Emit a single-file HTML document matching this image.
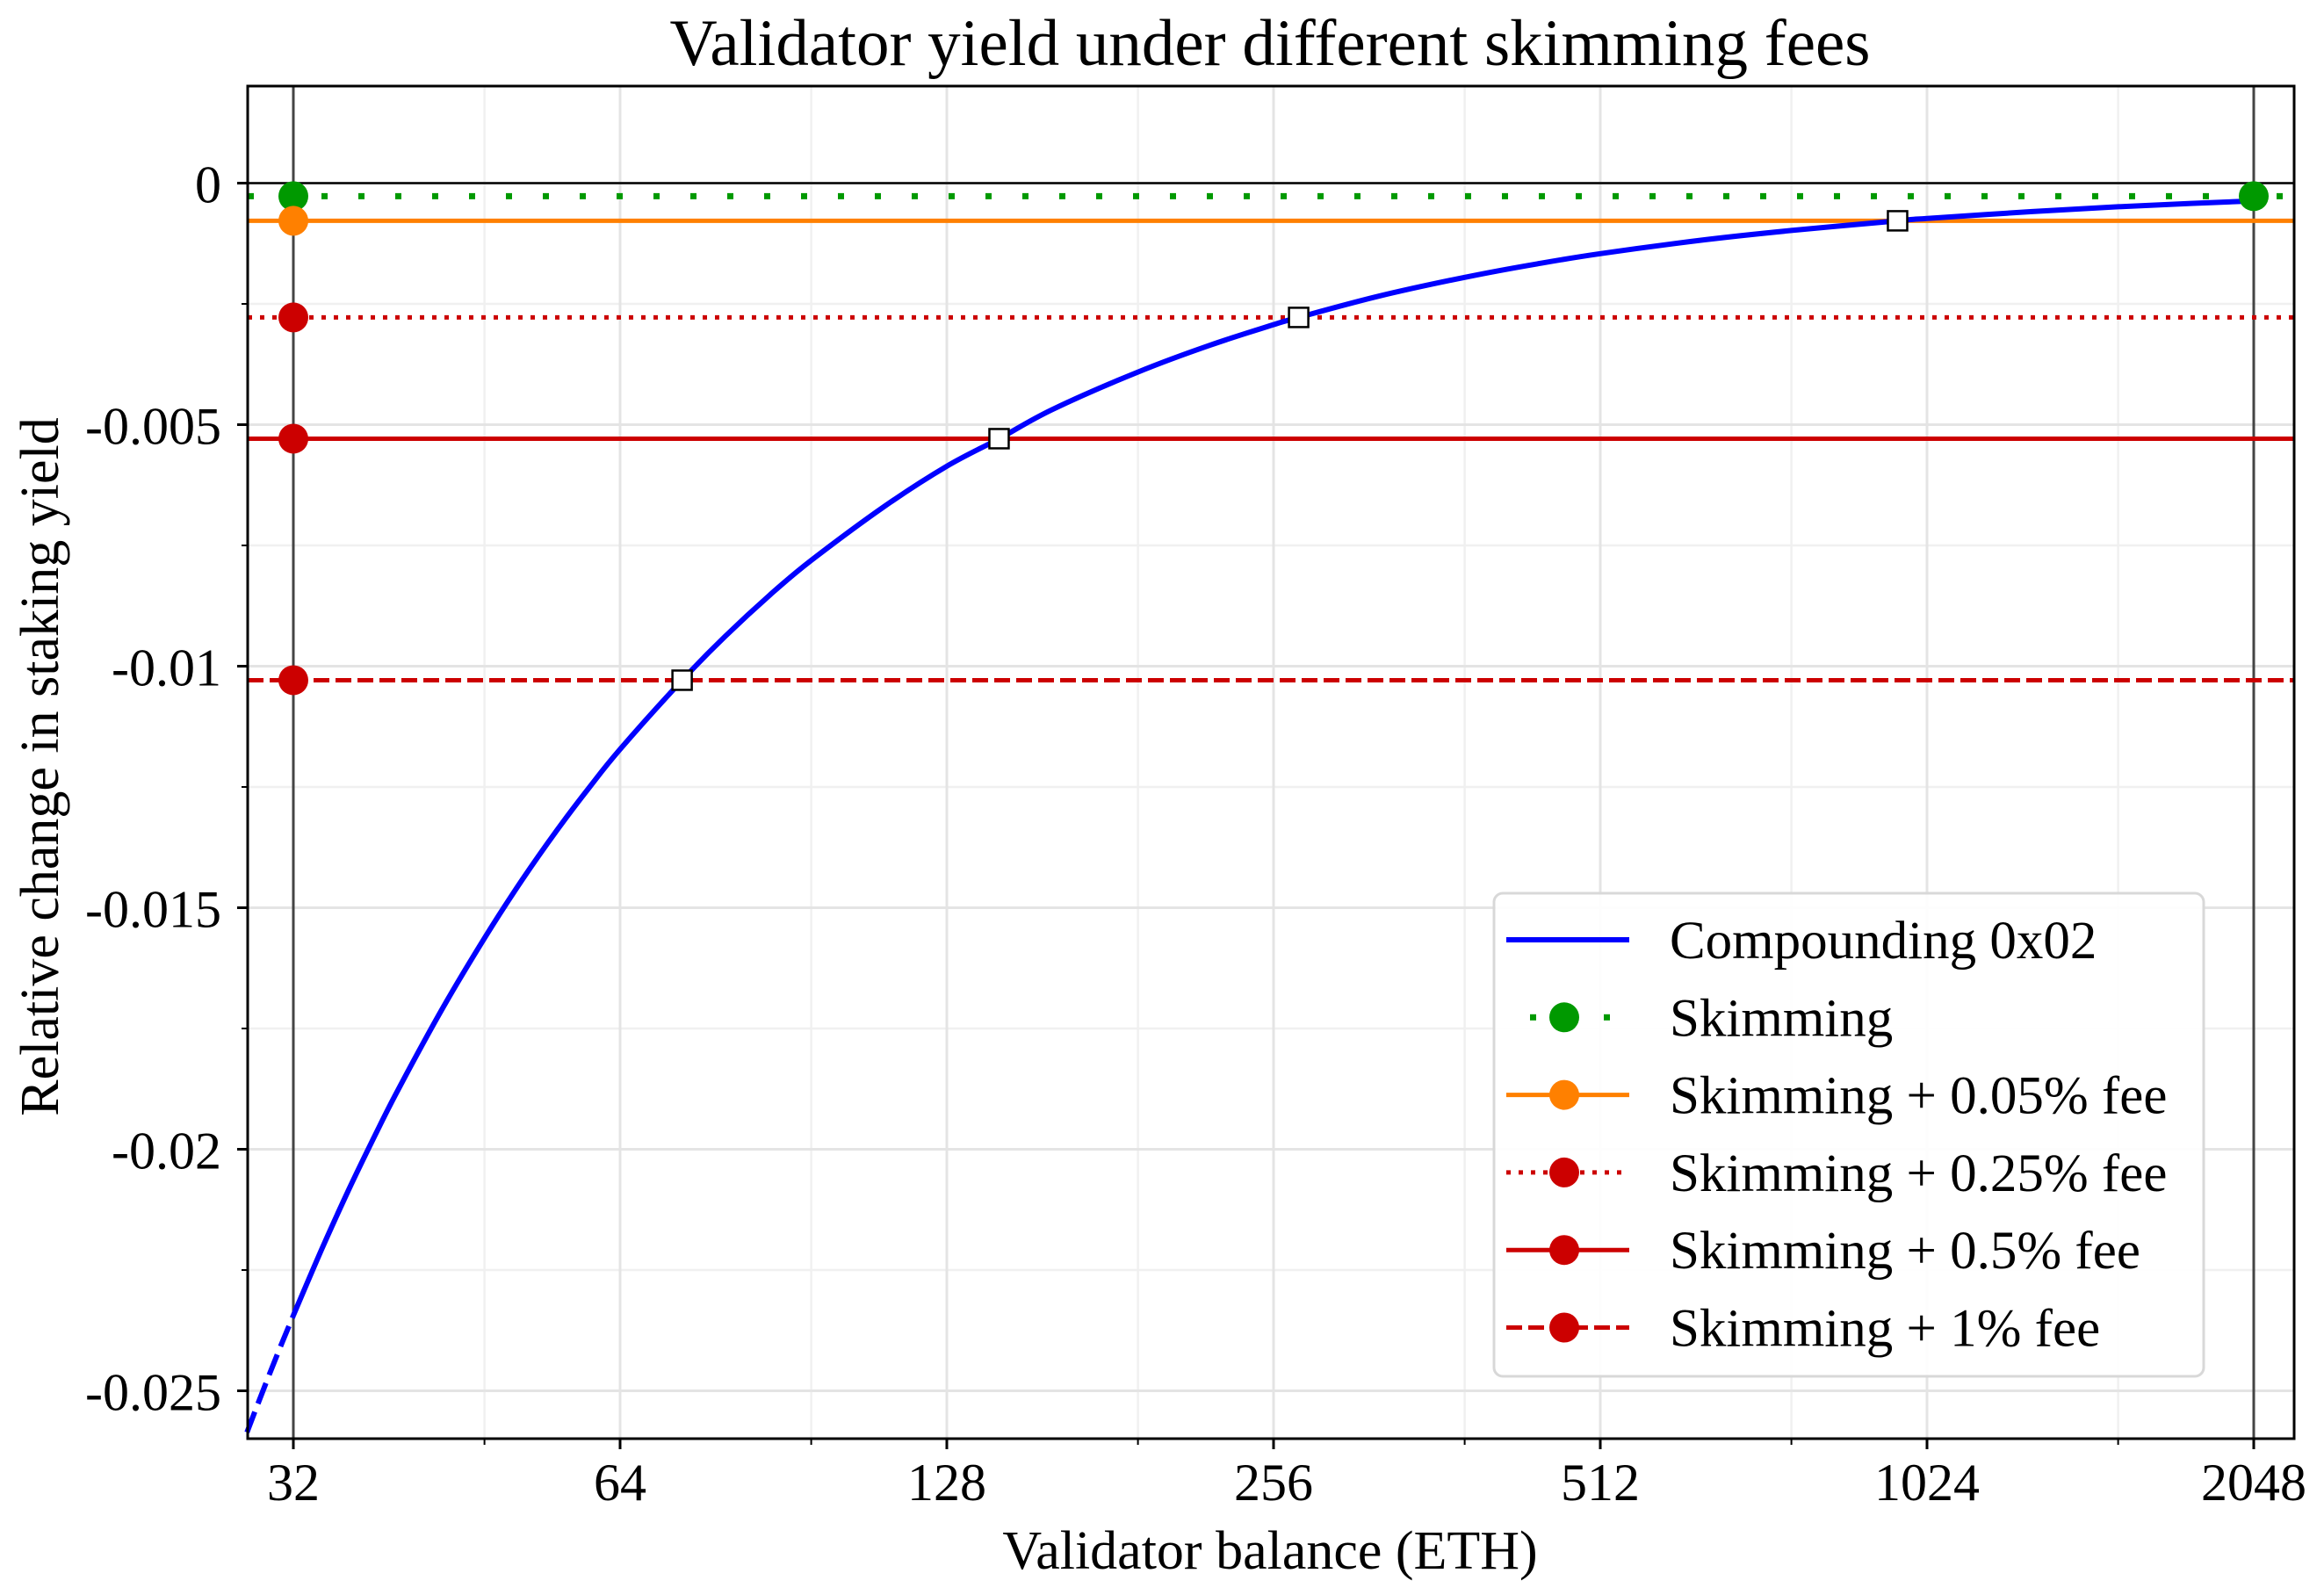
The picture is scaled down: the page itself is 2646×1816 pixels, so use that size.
<!DOCTYPE html>
<html><head><meta charset="utf-8"><style>
html,body{margin:0;padding:0;background:#fff}
svg{display:block}
text{font-family:"Liberation Serif",serif;fill:#000}
</style></head><body>
<svg id="chart" width="2646" height="1816" viewBox="0 0 2646 1816" xmlns="http://www.w3.org/2000/svg">
<rect width="2646" height="1816" fill="#fff"/>
<g id="grid"></g>
<g id="series"></g>
<g id="axes"></g>
<text x="1446" y="74" font-size="75" text-anchor="middle">Validator yield under different skimming fees</text>
<text x="1446" y="1786" font-size="62" text-anchor="middle">Validator balance (ETH)</text>
<text x="0" y="0" font-size="62" text-anchor="middle" transform="translate(66,873) rotate(-90)">Relative change in staking yield</text>
<g id="legend"></g>
</svg>
<script>
const xTicks=[32,64,128,256,512,1024,2048];
const xTickLabels=["32","64","128","256","512","1024","2048"];
const xMinor=[48,96,192,384,768,1536];
const yTicks=[0,-0.005,-0.01,-0.015,-0.02,-0.025];
const yTickLabels=["0","-0.005","-0.01","-0.015","-0.02","-0.025"];
const yMinor=[-0.0025,-0.0075,-0.0125,-0.0175,-0.0225];
const balances=[29,30,31,32,34,36,38,40,44,48,52,56,60,64,73,80,88,96,112,128,143,160,192,224,256,270,320,384,448,512,640,768,962,1024,1280,1536,1792,2048];
const compounding=[-0.02586,-0.02500,-0.02419,-0.02344,-0.02206,-0.02083,-0.01974,-0.01875,-0.01705,-0.01563,-0.01442,-0.01339,-0.01250,-0.01172,-0.01029,-0.00938,-0.00852,-0.00781,-0.00670,-0.00586,-0.00529,-0.00469,-0.00391,-0.00335,-0.00293,-0.00278,-0.00234,-0.00195,-0.00167,-0.00146,-0.00117,-0.00098,-0.00078,-0.00073,-0.00059,-0.00049,-0.00042,-0.00037];
const feeNames=["Skimming","Skimming + 0.05% fee","Skimming + 0.25% fee","Skimming + 0.5% fee","Skimming + 1% fee"];
const feeValues=[-0.00027,-0.00078,-0.00278,-0.00529,-0.01029];
const crossBalances=[73,143,270,962];
const crossValues=[-0.01029,-0.00529,-0.00278,-0.00078];
const skimBalances=[32,2048];

const L=282,R=2612,T=98,B=1638;
const X=v=>334+372*Math.log2(v/32);
const Y=v=>208.5-v*55000;
const NS="http://www.w3.org/2000/svg";
function mk(tag,attrs,parent){const e=document.createElementNS(NS,tag);for(const k in attrs)e.setAttribute(k,attrs[k]);parent.appendChild(e);return e;}
const grid=document.getElementById('grid'),series=document.getElementById('series'),axes=document.getElementById('axes'),legend=document.getElementById('legend');

xMinor.forEach(v=>{const e=mk('line',{x1:X(v),x2:X(v),y1:T,y2:B,stroke:'#f0f0f0','stroke-width':2.5},grid);

});
yMinor.forEach(v=>{const e=mk('line',{x1:L,x2:R,y1:Y(v),y2:Y(v),stroke:'#f0f0f0','stroke-width':2.5},grid);

});
xTicks.forEach(v=>{const e=mk('line',{x1:X(v),x2:X(v),y1:T,y2:B,stroke:'#e4e4e4','stroke-width':3},grid);

});
yTicks.forEach(v=>{const e=mk('line',{x1:L,x2:R,y1:Y(v),y2:Y(v),stroke:'#e4e4e4','stroke-width':3},grid);

});
[32,2048].forEach(v=>{const e=mk('line',{x1:X(v),x2:X(v),y1:T,y2:B,stroke:'#444','stroke-width':3},grid);

});
{const e=mk('line',{x1:L,x2:R,y1:Y(0),y2:Y(0),stroke:'#000','stroke-width':2.5},grid);

}

const feeColors=['#009900','#ff8000','#cc0000','#cc0000','#cc0000'];
const feeDash=['7 35','','5 9','','18 7'];
const feeWidth=[7,5,5,5,5];
feeValues.forEach((v,i)=>{const a={x1:L,x2:R,y1:Y(v),y2:Y(v),stroke:feeColors[i],'stroke-width':feeWidth[i]};if(feeDash[i])a['stroke-dasharray']=feeDash[i];
const e=mk('line',a,series);

});

function smoothPath(pts){
  let d='M'+pts[0][0].toFixed(1)+','+pts[0][1].toFixed(1);
  for(let i=0;i<pts.length-1;i++){
    const p0=pts[Math.max(0,i-1)],p1=pts[i],p2=pts[i+1],p3=pts[Math.min(pts.length-1,i+2)];
    const c1=[p1[0]+(p2[0]-p0[0])/6,p1[1]+(p2[1]-p0[1])/6];
    const c2=[p2[0]-(p3[0]-p1[0])/6,p2[1]-(p3[1]-p1[1])/6];
    d+=' C'+c1[0].toFixed(1)+','+c1[1].toFixed(1)+' '+c2[0].toFixed(1)+','+c2[1].toFixed(1)+' '+p2[0].toFixed(1)+','+p2[1].toFixed(1);
  }
  return d;
}
const dashPts=[],solidPts=[];
balances.forEach((b,i)=>{const p=[X(b),Y(compounding[i])];if(b<=32)dashPts.push(p);if(b>=32)solidPts.push(p);});
{const e=mk('path',{d:smoothPath(dashPts),fill:'none',stroke:'#0000ff','stroke-width':6,'stroke-dasharray':'25 10'},series);

}
{const e=mk('path',{d:smoothPath(solidPts),fill:'none',stroke:'#0000ff','stroke-width':6,'stroke-linejoin':'round'},series);

}

feeValues.forEach((v,i)=>{const e=mk('circle',{cx:X(32),cy:Y(v),r:17,fill:feeColors[i]},series);

});
{const e=mk('circle',{cx:X(skimBalances[1]),cy:Y(feeValues[0]),r:17,fill:feeColors[0]},series);

}
crossBalances.forEach((b,i)=>{const e=mk('rect',{x:X(b)-11,y:Y(crossValues[i])-11,width:22,height:22,fill:'#fff',stroke:'#000','stroke-width':2.5},series);

});

{const e=mk('rect',{x:L,y:T,width:R-L,height:B-T,fill:'none',stroke:'#000','stroke-width':3},axes);

}
xTicks.forEach((v,i)=>{const t=mk('line',{x1:X(v),x2:X(v),y1:B,y2:B+12,stroke:'#000','stroke-width':3},axes);


const l=mk('text',{x:X(v),y:1708,'font-size':60,'text-anchor':'middle'},axes);l.textContent=xTickLabels[i];

});
xMinor.forEach(v=>{const t=mk('line',{x1:X(v),x2:X(v),y1:B,y2:B+7,stroke:'#000','stroke-width':2},axes);

});
yTicks.forEach((v,i)=>{const t=mk('line',{x1:L-12,x2:L,y1:Y(v),y2:Y(v),stroke:'#000','stroke-width':3},axes);


const l=mk('text',{x:252,y:Y(v)+22,'font-size':60,'text-anchor':'end'},axes);l.textContent=yTickLabels[i];

});
yMinor.forEach(v=>{const t=mk('line',{x1:L-7,x2:L,y1:Y(v),y2:Y(v),stroke:'#000','stroke-width':2},axes);

});

{const e=mk('rect',{x:1701,y:1017,width:808,height:550,rx:10,fill:'#fff','fill-opacity':0.9,stroke:'#d8d8d8','stroke-width':3},legend);

}
const legNames=["Compounding 0x02"].concat(feeNames);
const legColors=['#0000ff'].concat(feeColors);
const legDash=[''].concat(feeDash);
const legWidth=[6].concat(feeWidth);
legNames.forEach((n,i)=>{const y=1070+i*88.3;
const g=mk('g',{},legend);


const a={x1:1715,x2:1855,y1:y,y2:y,stroke:legColors[i],'stroke-width':legWidth[i]};if(legDash[i])a['stroke-dasharray']=legDash[i];
if(i==1){mk('rect',{x:1742,y:y-3.5,width:7,height:7,fill:legColors[i]},g);mk('rect',{x:1826,y:y-3.5,width:7,height:7,fill:legColors[i]},g);}
else mk('line',a,g);
if(i>0)mk('circle',{cx:1781,cy:y,r:17,fill:legColors[i]},g);
const t=mk('text',{x:1901,y:y+21,'font-size':61},g);t.textContent=n;});
</script>
</body></html>
